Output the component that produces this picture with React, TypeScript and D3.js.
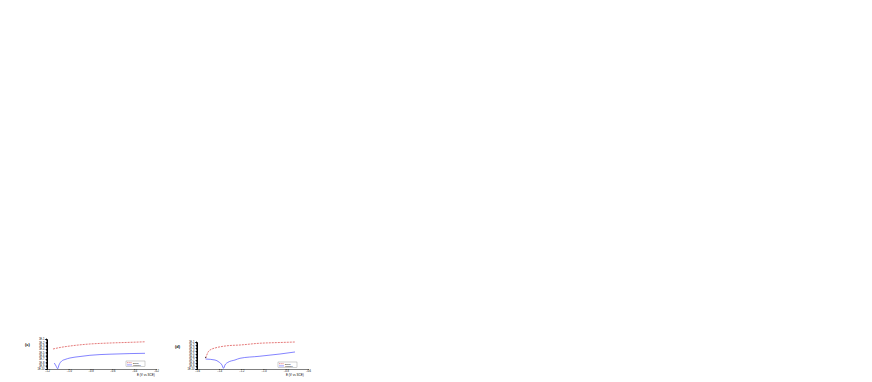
import { useEffect, useRef } from "react";
import * as d3 from "d3";

// potentials (V) and current densities (A/cm2)
const potC_red = [-1.145, -1.081, -0.989, -0.806, -0.622, -0.439, -0.301];
const curC_red = [1.0e-4, 2.8e-4, 7.9e-4, 3.2e-3, 6.3e-3, 1.0e-2, 1.45e-2];
const potC_blue = [-1.133, -1.117, -1.102, -1.09, -1.065, -1.035, -0.989, -0.897, -0.806, -0.622, -0.439, -0.301];
const curC_blue = [6.3e-9, 7.9e-10, 1.2e-10, 1.6e-9, 2.5e-8, 7.1e-8, 2.0e-7, 5.6e-7, 1.3e-6, 2.8e-6, 4.2e-6, 5.1e-6];

const potD_red = [-1.522, -1.498, -1.465, -1.438, -1.375, -1.321, -1.213, -1.041, -0.852, -0.717];
const curD_red = [3.7e-7, 5.9e-5, 4.7e-4, 1.0e-3, 3.2e-3, 5.9e-3, 1.0e-2, 3.7e-2, 6.8e-2, 1.0e-1];
const potD_blue = [-1.522, -1.438, -1.402, -1.375, -1.361, -1.348, -1.321, -1.258, -1.213, -1.041, -0.852, -0.717];
const curD_blue = [2.1e-7, 1.0e-7, 2.1e-8, 2.1e-9, 1.7e-10, 2.1e-9, 1.7e-8, 1.0e-7, 3.7e-7, 1.7e-6, 1.0e-5, 4.7e-5];

const yTicks = [1e-1, 1e-2, 1e-3, 1e-4, 1e-5, 1e-6, 1e-7, 1e-8, 1e-9, 1e-10];
const xTicksC = [-1.2, -1.0, -0.8, -0.6, -0.4, -0.2];
const xTicksD = [-1.6, -1.4, -1.2, -1.0, -0.8, -0.6];
const legendNames = ["Blank", "Inhibitor"];

const FONT = "Liberation Sans, Arial, sans-serif";

function drawPanel(svg, opt) {
  const { label, x0, x1, yTop, yBot, xDom, xTicks, red, blue, legX, legY, title, titleX, dot } = opt;
  const x = d3.scaleLinear().domain(xDom).range([x0, x1]);
  const y = d3.scaleLog().domain([1e-10, 1e-1]).range([yBot, yTop]);
  const g = svg.append("g").attr("font-family", FONT);

  g.append("text").attr("x", x0 - 22).attr("y", (yTop + yBot) / 2 - 8)
    .attr("font-size", 4).attr("font-weight", "bold")
    .text(label);

  // minor log ticks give the dense black left axis
  const minor = y.ticks(90).filter(v => v >= 1e-10 && v <= 1e-1);
  g.selectAll(".minor").data(minor).join("line")
    .attr("x1", x0 - 1).attr("x2", x0).attr("y1", d => y(d)).attr("y2", d => y(d))
    .attr("stroke", "#000").attr("stroke-width", 0.4);

  const yAxis = d3.axisLeft(y).tickValues(yTicks).tickSize(1.6).tickPadding(1)
    .tickFormat(d => "1E" + Math.round(Math.log10(d)));
  const ya = g.append("g").attr("transform", `translate(${x0},0)`).call(yAxis)
    .attr("font-family", FONT).attr("font-size", 2.6);
  ya.selectAll("line").attr("stroke-width", 0.5);
  ya.select(".domain").attr("stroke-width", 1);

  const xAxis = d3.axisBottom(x).tickValues(xTicks).tickSize(0.8).tickPadding(0.3)
    .tickFormat(d3.format(".1f"));
  const xa = g.append("g").attr("transform", `translate(0,${yBot})`).call(xAxis)
    .attr("font-family", FONT).attr("font-size", 2.6);
  xa.selectAll("line").attr("stroke-width", 0.4);
  xa.select(".domain").attr("stroke-width", 0.5);

  g.append("text").attr("x", titleX).attr("y", yBot + 7)
    .attr("font-size", 3).text(title);

  const line = d3.line().x(d => x(d[0])).y(d => y(d[1])).curve(d3.curveMonotoneX);
  g.append("path").datum(d3.zip(red[0], red[1])).attr("d", line)
    .attr("fill", "none").attr("stroke", "#d42020").attr("stroke-width", 0.6).attr("stroke-dasharray", "2,1");
  g.append("path").datum(d3.zip(blue[0], blue[1])).attr("d", line)
    .attr("fill", "none").attr("stroke", "#3030ff").attr("stroke-width", 0.6);

  if (dot) {
    g.append("circle").attr("cx", x(red[0][0])).attr("cy", y(red[1][0]) - 1).attr("r", 0.6).attr("fill", "#222");
  }

  const leg = g.append("g").attr("transform", `translate(${legX},${legY})`);
  leg.append("rect").attr("width", 19).attr("height", 5.5).attr("fill", "#fff")
    .attr("stroke", "#666").attr("stroke-width", 0.3);
  const cols = ["#d42020", "#3030ff"];
  legendNames.forEach((n, i) => {
    leg.append("line").attr("x1", 1).attr("x2", 6).attr("y1", 1.7 + i * 2.2).attr("y2", 1.7 + i * 2.2)
      .attr("stroke", cols[i]).attr("stroke-width", 0.5).attr("stroke-dasharray", i === 0 ? "1.5,0.7" : null);
    leg.append("text").attr("x", 7).attr("y", 2.5 + i * 2.2).attr("font-size", 2.2).text(n);
  });
}

export default function App() {
  const ref = useRef(null);
  useEffect(() => {
    const svg = d3.select(ref.current);
    svg.selectAll("*").remove();
    drawPanel(svg, {
      label: "(c)", x0: 47, x1: 156, yTop: 339, yBot: 369, xDom: [-1.2, -0.2], xTicks: xTicksC,
      red: [potC_red, curC_red], blue: [potC_blue, curC_blue], legX: 126, legY: 361,
      title: "E (V vs SCE)", titleX: 137, dot: false,
    });
    drawPanel(svg, {
      label: "(d)", x0: 197, x1: 308, yTop: 342, yBot: 369, xDom: [-1.6, -0.6], xTicks: xTicksD,
      red: [potD_red, curD_red], blue: [potD_blue, curD_blue], legX: 278, legY: 362,
      title: "E (V vs SCE)", titleX: 286, dot: true,
    });
  }, []);
  return (
    <svg ref={ref} width={872} height={382}
      style={{ position: "absolute", left: 0, top: 0, background: "#fff" }} />
  );
}
